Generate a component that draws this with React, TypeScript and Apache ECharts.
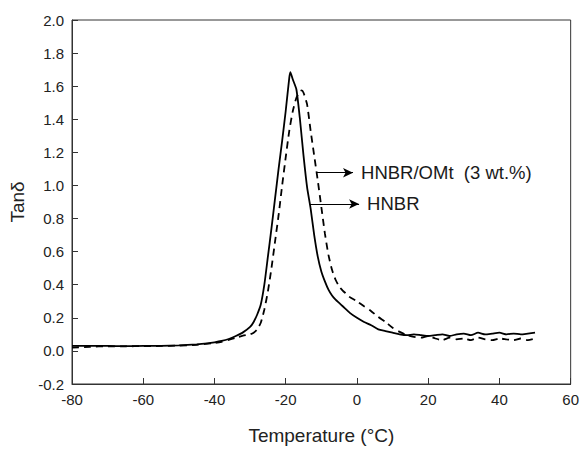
import React, { useEffect, useRef } from "react";
import * as echarts from "echarts";

const hnbrTemps = [-80, -75, -70, -65, -60, -55, -50, -45, -42, -40, -38, -36, -34, -32, -30, -29, -28, -27, -26, -25, -24, -23, -22, -21, -20, -19, -18.7, -18, -17, -16, -15, -14, -13, -12, -11, -10, -9, -8, -7, -6, -5, -4, -2, 0, 2, 4, 6, 8, 10, 12, 14, 16, 18, 20, 22, 24, 26, 28, 30, 32, 34, 36, 38, 40, 42, 44, 46, 48, 50];
const hnbrTan = [0.030, 0.031, 0.030, 0.029, 0.030, 0.031, 0.034, 0.040, 0.046, 0.052, 0.060, 0.072, 0.090, 0.112, 0.145, 0.175, 0.22, 0.28, 0.40, 0.57, 0.74, 0.92, 1.10, 1.27, 1.45, 1.65, 1.685, 1.64, 1.58, 1.40, 1.18, 0.99, 0.86, 0.70, 0.57, 0.48, 0.42, 0.37, 0.335, 0.31, 0.29, 0.27, 0.23, 0.20, 0.175, 0.155, 0.13, 0.12, 0.11, 0.10, 0.095, 0.10, 0.095, 0.09, 0.095, 0.10, 0.09, 0.10, 0.105, 0.095, 0.11, 0.10, 0.105, 0.11, 0.10, 0.105, 0.10, 0.105, 0.11];

const omtTemps = [-80, -75, -70, -65, -60, -55, -50, -45, -40, -38, -36, -34, -32, -30, -29, -28, -27, -26, -25, -24, -23, -22, -21, -20, -19, -18, -17, -16, -15.5, -15, -14, -13, -12, -11, -10, -9, -8, -7, -6, -5, -4, -3, -2, 0, 2, 4, 6, 8, 10, 12, 14, 16, 18, 20, 22, 24, 26, 28, 30, 32, 34, 36, 38, 40, 42, 44, 46, 48, 50];
const omtTan = [0.020, 0.025, 0.028, 0.028, 0.029, 0.030, 0.032, 0.037, 0.048, 0.055, 0.066, 0.080, 0.092, 0.10, 0.11, 0.13, 0.17, 0.25, 0.36, 0.50, 0.66, 0.82, 1.00, 1.17, 1.33, 1.45, 1.53, 1.57, 1.575, 1.56, 1.49, 1.33, 1.18, 1.03, 0.87, 0.71, 0.58, 0.49, 0.43, 0.39, 0.365, 0.345, 0.325, 0.30, 0.27, 0.24, 0.205, 0.175, 0.14, 0.115, 0.095, 0.085, 0.08, 0.09, 0.075, 0.065, 0.08, 0.07, 0.075, 0.065, 0.08, 0.07, 0.065, 0.075, 0.07, 0.065, 0.075, 0.065, 0.075];

const omtArrow = [[-11.3, 1.077], [-1.1, 1.077]];
const hnbrArrow = [[-13.2, 0.888], [0.6, 0.888]];
const omtLabel = "HNBR/OMt  (3 wt.%)";
const hnbrLabel = "HNBR";

const FONT = "Liberation Sans, Arial, sans-serif";

function zip(xs: number[], ys: number[]) {
  return xs.map((x, i) => [x, ys[i]]);
}

function arrowLine(pts: number[][], text: string) {
  return {
    silent: true,
    symbol: ["none", "arrow"],
    symbolSize: [7, 10],
    lineStyle: { color: "#000", width: 1, type: "solid" },
    label: {
      show: true,
      position: "end",
      distance: 8,
      formatter: text,
      color: "#1a1a1a",
      fontSize: 18.5,
      fontFamily: FONT,
    },
    data: [[{ coord: pts[0] }, { coord: pts[1] }]],
  };
}

export default function App() {
  const ref = useRef<HTMLDivElement>(null);
  useEffect(() => {
    if (!ref.current) return;
    const chart = echarts.init(ref.current, null, { renderer: "svg" });
    chart.setOption({
      animation: false,
      backgroundColor: "#fff",
      grid: {
        left: 72,
        right: 8,
        top: 20,
        bottom: 60,
        show: true,
        borderColor: "#333",
        borderWidth: 1,
        backgroundColor: "transparent",
      },
      xAxis: {
        type: "value",
        min: -80,
        max: 60,
        interval: 20,
        name: "Temperature (°C)",
        nameLocation: "middle",
        nameGap: 42,
        nameTextStyle: { fontSize: 19, color: "#222", fontFamily: FONT },
        axisLine: { show: true, onZero: false, lineStyle: { color: "#333", width: 1 } },
        axisTick: { show: true, inside: true, length: 6, lineStyle: { color: "#333" } },
        axisLabel: { fontSize: 15, color: "#222", fontFamily: FONT, margin: 8 },
        splitLine: { show: false },
      },
      yAxis: {
        type: "value",
        min: -0.2,
        max: 2.0,
        interval: 0.2,
        name: "Tanδ",
        nameLocation: "middle",
        nameGap: 44,
        nameTextStyle: { fontSize: 19, color: "#222", fontFamily: FONT },
        axisLine: { show: true, onZero: false, lineStyle: { color: "#333", width: 1 } },
        axisTick: { show: true, inside: true, length: 6, lineStyle: { color: "#333" } },
        axisLabel: {
          fontSize: 15,
          color: "#222",
          fontFamily: FONT,
          margin: 8,
          formatter: (v: number) => v.toFixed(1),
        },
        splitLine: { show: false },
      },
      series: [
        {
          name: "HNBR",
          type: "line",
          data: zip(hnbrTemps, hnbrTan),
          showSymbol: false,
          smooth: 0.2,
          lineStyle: { color: "#000", width: 1.8, type: "solid" },
          markLine: arrowLine(hnbrArrow, hnbrLabel),
        },
        {
          name: "HNBR/OMt (3 wt.%)",
          type: "line",
          data: zip(omtTemps, omtTan),
          showSymbol: false,
          smooth: 0.2,
          lineStyle: { color: "#000", width: 1.8, type: [7, 5] },
          markLine: arrowLine(omtArrow, omtLabel),
        },
      ],
    });
    return () => chart.dispose();
  }, []);
  return (
    <div
      ref={ref}
      style={{ position: "fixed", left: 0, top: 0, width: 582, height: 450 }}
    />
  );
}
